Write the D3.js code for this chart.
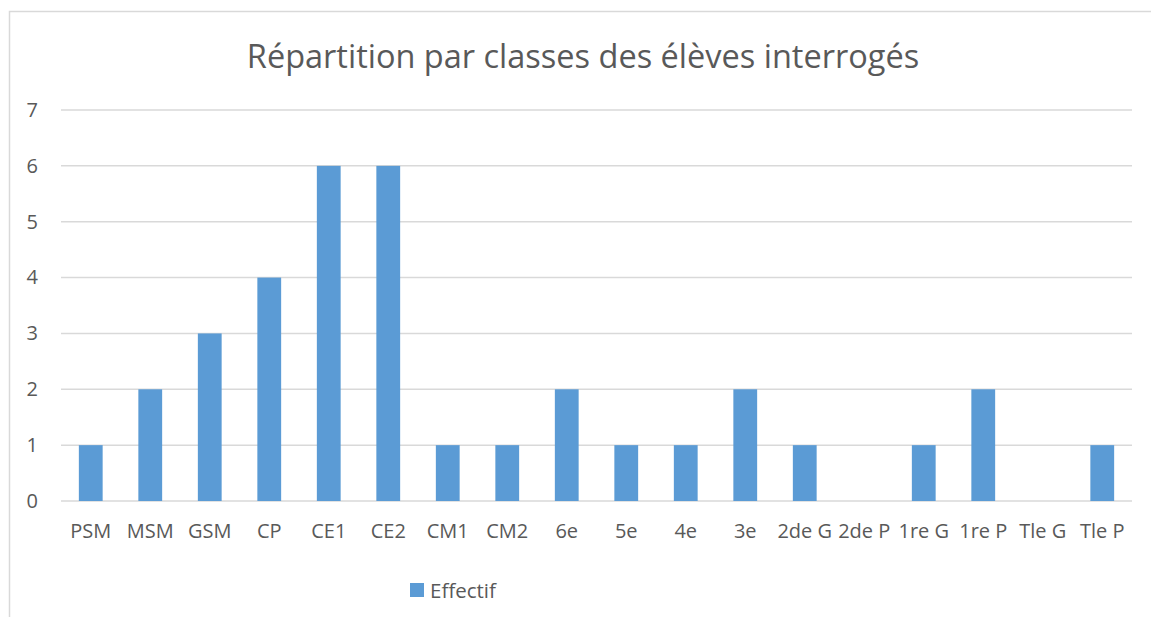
<!DOCTYPE html>
<html>
<head>
<meta charset="utf-8">
<title>Répartition par classes</title>
<style>
  body { margin: 0; background: #fff; }
  text { font-family: "Open Sans", "DejaVu Sans", sans-serif; fill: #595959; }
  .grid line { stroke: #d9d9d9; stroke-width: 1.5; }
  .bar { fill: #5b9bd5; }
</style>
<script src="https://cdn.jsdelivr.net/npm/d3@7"></script>
</head>
<body>
<script>
// data
var classes = ["PSM", "MSM", "GSM", "CP", "CE1", "CE2", "CM1", "CM2", "6e", "5e", "4e", "3e",
               "2de G", "2de P", "1re G", "1re P", "Tle G", "Tle P"];
var effectif = [1, 2, 3, 4, 6, 6, 1, 1, 2, 1, 1, 2, 1, 0, 1, 2, 0, 1];
var yTicks = [0, 1, 2, 3, 4, 5, 6, 7];
var seriesName = "Effectif";

var W = 1151, H = 617;
var margin = { top: 110, right: 19, bottom: 116, left: 61 };
var width = W - margin.left - margin.right,
    height = H - margin.top - margin.bottom;

var svg = d3.select("body").append("svg")
    .attr("width", W)
    .attr("height", H);

// chart frame
svg.append("rect")
    .attr("x", 9.5).attr("y", 11.5)
    .attr("width", W + 10).attr("height", H + 10)
    .attr("fill", "none")
    .attr("stroke", "#d9d9d9")
    .attr("stroke-width", 1.5);

svg.append("text")
    .attr("x", 583).attr("y", 68)
    .attr("text-anchor", "middle")
    .style("font-size", "32.5px")
    .text("Répartition par classes des élèves interrogés");

var g = svg.append("g")
    .attr("transform", "translate(" + margin.left + "," + margin.top + ")");

var x = d3.scaleBand().domain(classes).range([0, width]).paddingInner(0.6).paddingOuter(0.3);
var y = d3.scaleLinear().domain([0, 7]).range([height, 0]);

// gridlines
g.append("g").attr("class", "grid")
    .selectAll("line").data(yTicks).enter().append("line")
    .attr("x1", 0).attr("x2", width)
    .attr("y1", function(d) { return y(d); })
    .attr("y2", function(d) { return y(d); });

// y labels
g.append("g")
    .call(d3.axisLeft(y).tickValues(yTicks).tickFormat(d3.format("d")).tickSize(0).tickPadding(23))
    .call(function(a) { a.select(".domain").remove(); })
    .selectAll("text")
    .style("font-size", "20px")
    .attr("fill", "#595959");

// bars
g.selectAll(".bar")
    .data(effectif)
    .enter().append("rect")
    .attr("class", "bar")
    .attr("x", function(d, i) { return x(classes[i]); })
    .attr("width", x.bandwidth())
    .attr("y", function(d) { return y(d); })
    .attr("height", function(d) { return height - y(d); });

// x labels
g.append("g")
    .attr("transform", "translate(0," + height + ")")
    .call(d3.axisBottom(x).tickSize(0).tickPadding(23))
    .call(function(a) { a.select(".domain").remove(); })
    .selectAll("text")
    .style("font-size", "20px")
    .attr("fill", "#595959");

// legend
var leg = svg.append("g").attr("transform", "translate(410,583)");
leg.append("rect").attr("class", "bar").attr("width", 14).attr("height", 14);
leg.append("text").attr("x", 20).attr("y", 14.5).style("font-size", "20.5px").text(seriesName);
</script>
</body>
</html>
